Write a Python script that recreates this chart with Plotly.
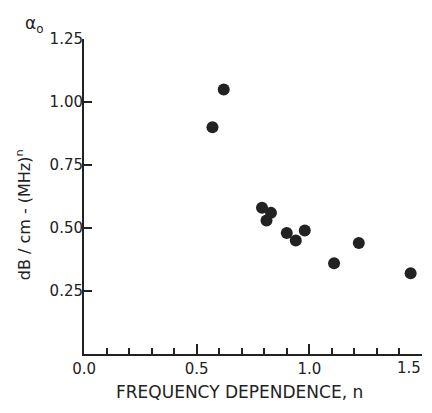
import plotly.graph_objects as go

# Data
freq_dependence_n = [0.57, 0.62, 0.79, 0.81, 0.83, 0.90, 0.94, 0.98, 1.11, 1.22, 1.45]
alpha0_values = [0.90, 1.05, 0.58, 0.53, 0.56, 0.48, 0.45, 0.49, 0.36, 0.44, 0.32]

x_tick_vals = [0.0, 0.5, 1.0, 1.5]
x_tick_text = ["0.0", "0.5", "1.0", "1.5"]
y_tick_vals = [0.25, 0.50, 0.75, 1.00, 1.25]
y_tick_text = ["0.25", "0.50", "0.75", "1.00", "1.25"]

FONT = "DejaVu Sans"
INK = "#222222"

fig = go.Figure()
fig.add_trace(go.Scatter(
    x=freq_dependence_n, y=alpha0_values, mode="markers",
    marker=dict(size=12, color=INK),
    showlegend=False, cliponaxis=False,
))

# last x tick label is drawn as an annotation so it stays inside the page edge
axis_tick_text = x_tick_text[:-1] + [""]

fig.update_layout(
    template="none",
    width=416, height=397,
    margin=dict(l=76, r=2, t=31, b=51, autoexpand=False),
    paper_bgcolor="white", plot_bgcolor="white",
    font=dict(family=FONT, size=15, color=INK),
    xaxis=dict(
        range=[-0.0005, 1.5005], showgrid=False, zeroline=False, automargin=False,
        showline=True, linecolor=INK, linewidth=2,
        ticks="inside", ticklen=10, tickwidth=2, tickcolor=INK,
        tickvals=x_tick_vals, ticktext=axis_tick_text,
        minor=dict(ticks="inside", ticklen=6, tickwidth=2, tickcolor=INK, dtick=0.1, showgrid=False),
        tickfont=dict(size=15), ticklabeloverflow="allow",
    ),
    yaxis=dict(
        range=[-0.0005, 1.2505], showgrid=False, zeroline=False, automargin=False,
        showline=True, linecolor=INK, linewidth=2,
        ticks="inside", ticklen=8, tickwidth=2, tickcolor=INK,
        tickvals=y_tick_vals, ticktext=y_tick_text,
        tickfont=dict(size=15), ticklabelstandoff=-4,
    ),
    annotations=[
        dict(text=x_tick_text[-1], xref="paper", yref="paper",
             x=1.004, y=-0.045, showarrow=False, font=dict(size=15),
             xanchor="right", yanchor="middle"),
        dict(text="FREQUENCY DEPENDENCE, n", xref="paper", yref="paper",
             x=0.459, y=-0.121, showarrow=False, font=dict(size=17),
             xanchor="center", yanchor="middle"),
        dict(text="dB / cm - (MHz)<sup>n</sup>", xref="paper", yref="paper",
             x=-0.18, y=0.441, showarrow=False, textangle=-90, font=dict(size=16),
             xanchor="center", yanchor="middle"),
        dict(text="α<sub>o</sub>", xref="paper", yref="paper",
             x=-0.145, y=1.088, showarrow=False, font=dict(size=17),
             xanchor="center", yanchor="top"),
    ],
)

fig.write_html("out.html")
